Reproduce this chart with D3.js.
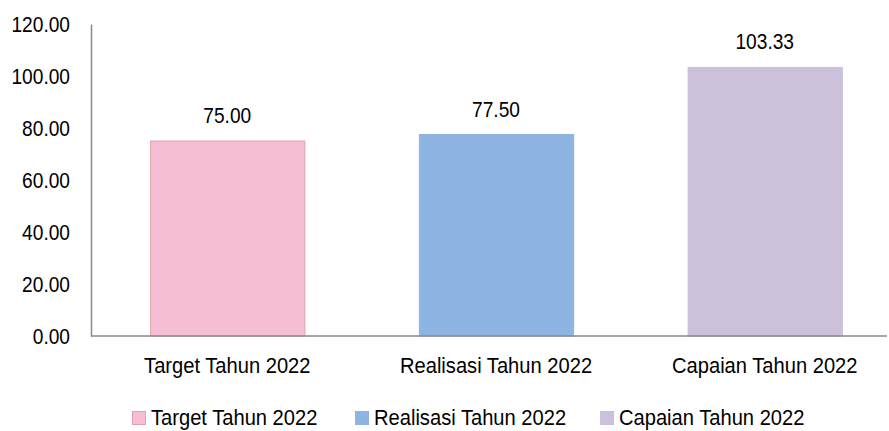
<!DOCTYPE html>
<html><head><meta charset="utf-8">
<script src="https://cdn.jsdelivr.net/npm/d3@7"></script>
<style>
body{margin:0;background:#fff;}
text{font-family:"Liberation Sans",Arial,sans-serif;fill:#000;}
</style></head><body>
<svg id="c" width="889" height="431"></svg>
<script>
const categories = ["Target Tahun 2022","Realisasi Tahun 2022","Capaian Tahun 2022"];
const values = [75.00, 77.50, 103.33];
const labels = ["75.00","77.50","103.33"];
const colors = ["#F6BED4","#8EB4E3","#CCC1DA"];
const strokes = ["#E3A1A8","#8EB4E3","#CCC1DA"];
const yTicks = [0,20,40,60,80,100,120];
const FS = 22, SQ_NUM = 0.87, SQ_WORD = 0.915;

const svg = d3.select("#c");
const x = d3.scaleBand().domain(categories).range([91, 901]).paddingInner(0.426).paddingOuter(0.22);
const y = d3.scaleLinear().domain([0,120]).range([336, 24]);

svg.selectAll("rect.bar").data(values).join("rect")
  .attr("class","bar")
  .attr("x",(d,i)=>x(categories[i])+0.5)
  .attr("y",d=>y(d))
  .attr("width",x.bandwidth())
  .attr("height",d=>y(0)-y(d))
  .attr("fill",(d,i)=>colors[i])
  .attr("stroke",(d,i)=>strokes[i])
  .attr("stroke-width",1);

svg.selectAll("text.val").data(values).join("text")
  .attr("class","val")
  .attr("x",(d,i)=>x(categories[i])+x.bandwidth()/2)
  .attr("y",d=>y(d)-18)
  .attr("text-anchor","middle")
  .attr("font-size",FS)
  .text((d,i)=>labels[i]);

const ya = svg.append("g").attr("transform","translate(91,0)")
  .call(d3.axisLeft(y).tickValues(yTicks).tickSize(0).tickPadding(21).tickFormat(d3.format(".2f")));
ya.attr("font-size",null).attr("font-family",null);
ya.select(".domain").attr("stroke","#898989").attr("stroke-width",1.5);
ya.selectAll("text").attr("font-size",FS).attr("fill","#000").attr("dy","0.36em");

const xa = svg.append("g").attr("transform","translate(0,336)")
  .call(d3.axisBottom(x).tickSize(0).tickPadding(0));
xa.attr("font-size",null).attr("font-family",null);
xa.select(".domain").attr("d","M91,0H887").attr("stroke","#898989").attr("stroke-width",1.5);
xa.selectAll("text").attr("font-size",FS).attr("fill","#000").attr("y",37).attr("dy",null);

const legX = [132, 355, 600];
const lg = svg.selectAll("g.leg").data(categories).join("g").attr("class","leg")
  .attr("transform",(d,i)=>`translate(${legX[i]},0)`);
lg.append("rect").attr("x",0.5).attr("y",411.5).attr("width",13).attr("height",13)
  .attr("fill",(d,i)=>colors[i]).attr("stroke",(d,i)=>strokes[i]);
lg.append("text").attr("x",19).attr("y",425).attr("font-size",FS).text(d=>d);

// condense text like a narrow font
svg.selectAll("text").each(function(){
  const w = this.getComputedTextLength();
  const f = /[A-Za-z]/.test(this.textContent) ? SQ_WORD : SQ_NUM;
  d3.select(this).attr("textLength", w*f).attr("lengthAdjust","spacingAndGlyphs");
});
</script>
</body></html>
